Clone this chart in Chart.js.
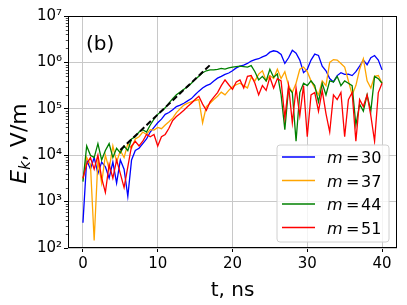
<!DOCTYPE html>
<html><head><meta charset="utf-8">
<script src="https://cdn.jsdelivr.net/npm/chart.js@4/dist/chart.umd.min.js"></script>
<style>html,body{margin:0;padding:0;background:#fff;}canvas{display:block;}</style>
</head><body>
<canvas id="c" width="407" height="305"></canvas>
<script>
// ---- data ----
const times = [0,0.5,1,1.5,2,2.5,3,3.5,4,4.5,5,5.5,6,6.5,7,7.5,8,8.5,9,9.5,10,10.5,11,11.5,12,12.5,13,13.5,14,14.5,15,15.5,16,16.5,17,17.5,18,18.5,19,19.5,20,20.5,21,21.5,22,22.5,23,23.5,24,24.5,25,25.5,26,26.5,27,27.5,28,28.5,29,29.5,30,30.5,31,31.5,32,32.5,33,33.5,34,34.5,35,35.5,36,36.5,37,37.5,38,38.5,39,39.5,40];
const seriesLabels = ['30','37','44','51'];
const eM30 = [3.5e2,7.9e3,5.0e3,8.9e3,4.0e3,7.1e3,5.6e3,3.2e3,7.1e3,2.5e3,7.9e3,5.0e3,1.3e3,7.9e3,1.26e4,1.41e4,1.78e4,2.24e4,3.16e4,3.98e4,5.0e4,6.0e4,7.6e4,8.3e4,9.5e4,1.12e5,1.2e5,1.32e5,1.48e5,1.66e5,2.0e5,2.4e5,2.82e5,3.16e5,3.39e5,3.98e5,4.57e5,5.0e5,5.5e5,5.9e5,6.6e5,7.6e5,8.3e5,8.7e5,9.5e5,1.07e6,1.15e6,1.2e6,1.32e6,1.41e6,1.66e6,1.78e6,1.7e6,1.48e6,9.5e5,1.26e6,1.82e6,1.58e6,1.12e6,6.0e5,7.1e5,1.12e6,1.51e6,1.41e6,8.3e5,6.6e5,4.5e5,3.8e5,5.2e5,6.0e5,5.5e5,5.6e5,5.2e5,6.3e5,8.3e5,1.12e6,8.9e5,1.26e6,1.41e6,1.12e6,6.9e5];
const eM37 = [3.0e3,8.9e3,6.3e3,1.45e2,7.9e3,2.5e3,1.0e4,5.0e3,1.58e4,7.1e3,1.26e4,8.9e3,1.78e4,1.41e4,2.24e4,2.5e4,3.16e4,2.8e4,3.55e4,3.47e4,3.98e4,3.72e4,4.47e4,5.25e4,6.3e4,8.3e4,1.0e5,1.2e5,1.32e5,1.41e5,1.51e5,1.58e5,5.0e4,1.12e5,1.32e5,1.58e5,1.86e5,2.29e5,2.0e5,2.5e5,3.0e5,3.3e5,3.55e5,3.16e5,2.82e5,4.8e5,4.0e5,5.6e5,6.6e5,4.0e5,5.2e5,4.5e5,7.1e5,4.5e5,6.3e5,3.16e5,2.24e5,3.55e5,7.1e5,7.9e5,6.3e5,4.0e5,2.8e5,2.0e5,4.0e5,3.16e5,1.0e6,1.15e6,1.12e6,9.5e5,7.9e5,4.0e5,2.0e5,3.16e5,7.1e5,1.2e6,4.0e5,2.8e5,5.0e5,5.2e5,3.55e5];
const eM44 = [2.7e3,1.58e4,1.0e4,8.9e3,1.78e4,7.9e3,1.26e4,1.78e4,8.9e3,1.41e4,1.12e4,1.58e4,1.26e4,2.24e4,2.5e4,3.16e4,3.55e4,3.16e4,4.47e4,6.0e4,7.6e4,8.9e4,1.05e5,1.32e5,1.66e5,2.0e5,2.29e5,2.63e5,3.0e5,3.55e5,4.27e5,5.0e5,6.0e5,6.6e5,6.9e5,6.9e5,7.1e5,7.4e5,7.2e5,7.6e5,7.9e5,8.1e5,8.3e5,8.1e5,7.9e5,8.5e5,6.3e5,4.2e5,5.0e5,4.0e5,7.1e5,4.8e5,5.6e5,2.0e5,3.55e4,2.8e5,2.24e5,2.0e4,2.24e5,3.55e5,3.16e5,4.0e5,3.16e5,1.41e5,3.55e5,2.0e5,4.0e5,3.8e5,5.0e5,3.16e5,4.0e5,3.55e5,3.16e5,4.47e4,1.26e5,8.9e4,2.0e5,8.9e4,5.0e5,4.47e5,3.55e5];
const eM51 = [3.2e3,6.3e3,8.9e3,5.0e3,1.0e4,3.2e3,1.58e3,6.3e3,3.2e3,7.9e3,4.0e3,2.0e3,5.6e3,1.58e4,2.0e4,1.58e4,2.0e4,2.8e4,2.5e4,2.8e4,1.58e4,2.5e4,2.8e4,3.8e4,5.6e4,6.8e4,7.9e4,9.3e4,1.12e5,1.32e5,1.58e5,1.86e5,1.26e5,9.3e4,1.41e5,1.78e5,2.24e5,3.16e5,4.2e5,3.3e5,2.63e5,3.8e5,4.2e5,2.8e5,5.0e5,5.2e5,3.55e5,2.0e5,3.16e5,2.5e5,4.8e5,2.8e5,4.47e5,4.0e5,6.3e4,3.16e5,5.0e4,2.8e5,7.1e4,3.16e5,2.5e4,2.0e5,2.24e5,8.9e4,2.5e5,7.9e4,3.16e4,2.0e5,1.58e5,2.24e5,2.5e4,1.58e5,2.24e5,2.0e4,1.58e5,1.12e5,2.0e5,7.1e4,2.0e4,2.24e5,3.55e5];
const fitT = [5, 17];
const fitE = [1.3e4, 8.8e5];
const xTicks = [0, 10, 20, 30, 40];
const yDecades = [1e2, 1e3, 1e4, 1e5, 1e6, 1e7];
const panelLabel = '(b)';
const xTitle = 't, ns';
const colors = ['#0000ff', '#ffa500', '#008000', '#ff0000'];

// ---- build chart ----
const FONT = '"DejaVu Sans", "Liberation Sans", sans-serif';
Chart.defaults.font.family = FONT;
Chart.defaults.color = '#000';
const sup = {'0':'⁰','1':'¹','2':'²','3':'³','4':'⁴','5':'⁵','6':'⁶','7':'⁷','8':'⁸','9':'⁹','-':'⁻'};
const isDecade = v => Math.abs(Math.log10(v) - Math.round(Math.log10(v))) < 1e-9;
const allSeries = [eM30, eM37, eM44, eM51];

const datasets = allSeries.map((arr, i) => ({
  label: 'm = ' + seriesLabels[i],
  data: times.map((t, k) => ({x: t, y: arr[k]})),
  borderColor: colors[i], borderWidth: 1.3, pointRadius: 0, tension: 0,
  fill: false, order: 4 - i
}));
datasets.push({
  label: 'fit', data: fitT.map((t, k) => ({x: t, y: fitE[k]})),
  borderColor: '#000', borderWidth: 2, borderDash: [6, 3], pointRadius: 0, order: 0
});

const decorations = {
  id: 'decorations',
  afterDatasetsDraw(chart) {
    const c = chart.ctx, a = chart.chartArea, ys = chart.scales.y;
    c.save();
    // minor ticks on y
    c.strokeStyle = '#000'; c.lineWidth = 0.7;
    ys.ticks.forEach(t => {
      if (!isDecade(t.value)) {
        const py = Math.round(ys.getPixelForValue(t.value)) + 0.5;
        c.beginPath(); c.moveTo(a.left, py); c.lineTo(a.left - 2.2, py); c.stroke();
      }
    });
    // frame
    c.lineWidth = 1; c.strokeStyle = '#000';
    c.strokeRect(a.left + 0.5, a.top + 0.5, a.right - a.left - 1, a.bottom - a.top - 1);
    // legend
    const bx = 277, by = 145, bw = 112, bh = 97, r = 3;
    c.beginPath();
    c.moveTo(bx + r, by); c.lineTo(bx + bw - r, by); c.quadraticCurveTo(bx + bw, by, bx + bw, by + r);
    c.lineTo(bx + bw, by + bh - r); c.quadraticCurveTo(bx + bw, by + bh, bx + bw - r, by + bh);
    c.lineTo(bx + r, by + bh); c.quadraticCurveTo(bx, by + bh, bx, by + bh - r);
    c.lineTo(bx, by + r); c.quadraticCurveTo(bx, by, bx + r, by); c.closePath();
    c.fillStyle = 'rgba(255,255,255,0.8)'; c.fill();
    c.strokeStyle = '#d0d0d0'; c.lineWidth = 1; c.stroke();
    const rows = [157, 180.5, 204, 227.5];
    seriesLabels.forEach((lab, i) => {
      const y = rows[i];
      c.strokeStyle = colors[i]; c.lineWidth = 1.5;
      c.beginPath(); c.moveTo(282, y); c.lineTo(315, y); c.stroke();
      c.fillStyle = '#000'; c.textBaseline = 'alphabetic'; c.textAlign = 'left';
      c.font = 'italic 16px ' + FONT; c.fillText('m', 327, y + 6);
      c.font = '16px ' + FONT; c.fillText('=', 346, y + 6);
      c.fillText(lab, 361, y + 6);
    });
    c.restore();
  },
  afterDraw(chart) {
    const c = chart.ctx;
    c.save();
    c.fillStyle = '#000'; c.textBaseline = 'alphabetic'; c.textAlign = 'left';
    c.font = '20px ' + FONT; c.fillText(panelLabel, 86, 50);
    // y axis label: E_k, V/m
    c.translate(26, 143.5); c.rotate(-Math.PI / 2);
    const f1 = 'italic 22px ' + FONT, f2 = 'italic 15px ' + FONT, f3 = '22px ' + FONT;
    c.font = f1; const wE = c.measureText('E').width;
    c.font = f2; const wk = c.measureText('k').width;
    c.font = f3; const wr = c.measureText(', V/m').width;
    let x = -(wE + wk + wr) / 2;
    c.font = f1; c.fillText('E', x, 0); x += wE;
    c.font = f2; c.fillText('k', x, 4); x += wk;
    c.font = f3; c.fillText(', V/m', x, 0);
    c.restore();
  }
};

new Chart(document.getElementById('c'), {
  type: 'line',
  data: {datasets},
  options: {
    responsive: false, animation: false, devicePixelRatio: 1,
    layout: {padding: {top: 16, right: 10, left: 0, bottom: 0}},
    plugins: {legend: {display: false}, tooltip: {enabled: false}},
    scales: {
      x: {
        type: 'linear', min: -2, max: 42,
        afterBuildTicks: s => { s.ticks = xTicks.map(v => ({value: v})); },
        afterFit: s => { s.height = 57; },
        ticks: {font: {size: 15}, color: '#000', padding: 3, maxRotation: 0, autoSkip: false},
        grid: {color: '#c8c8c8', lineWidth: 1, tickLength: 4, tickColor: '#000'},
        border: {display: false},
        title: {display: true, text: xTitle, font: {size: 20}, color: '#000', padding: {top: 0, bottom: 2}}
      },
      y: {
        type: 'logarithmic', min: 1e2, max: 1e7,
        afterBuildTicks: s => {
          const t = [];
          for (let e = 2; e < 7; e++) for (let m = 1; m <= 9; m++) t.push({value: m * Math.pow(10, e)});
          t.push({value: 1e7});
          s.ticks = t;
        },
        afterFit: s => { s.width = 68; },
        ticks: {
          font: {size: 15}, color: '#000', padding: 2, autoSkip: false,
          callback: v => {
            if (!yDecades.some(d => Math.abs(d - v) / d < 1e-9)) return '';
            const e = String(Math.round(Math.log10(v)));
            return '10' + e.split('').map(ch => sup[ch]).join('');
          }
        },
        grid: {
          color: ctx => (ctx.tick && isDecade(ctx.tick.value)) ? '#c8c8c8' : 'rgba(0,0,0,0)',
          tickColor: ctx => (ctx.tick && isDecade(ctx.tick.value)) ? '#000' : 'rgba(0,0,0,0)',
          lineWidth: 1, tickLength: 4
        },
        border: {display: false}
      }
    }
  },
  plugins: [decorations]
});
</script>
</body></html>
